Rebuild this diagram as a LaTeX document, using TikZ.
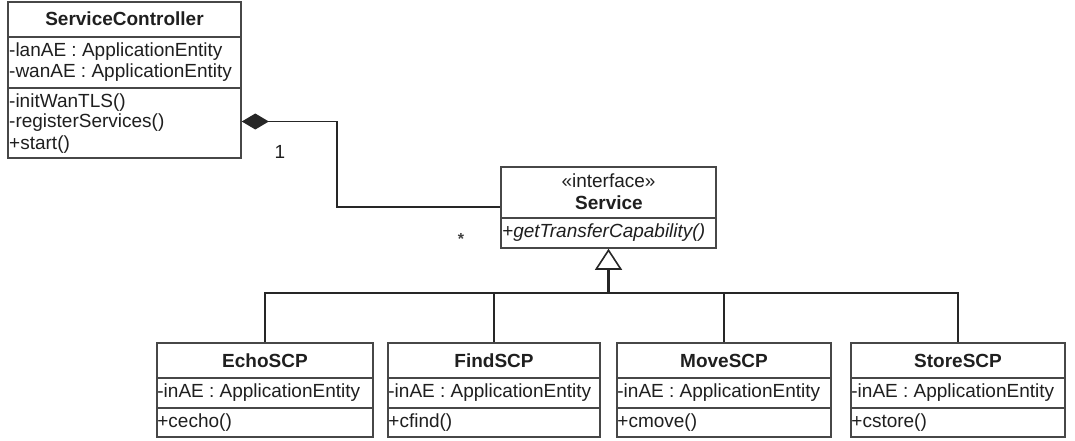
\documentclass[tikz,border=0pt]{standalone}
\usepackage{fontspec}
\setmainfont{Liberation Sans}
\usetikzlibrary{arrows.meta}
\begin{document}
\begin{tikzpicture}[x=1pt,y=-1pt,
  txt/.style={font=\fontsize{19}{21}\selectfont, text=black!88, inner sep=0pt},
  ttl/.style={font=\fontsize{19}{21}\selectfont\bfseries, text=black!88, inner sep=0pt},
  cls/.style={draw=black!72, line width=1.6pt, inner sep=0pt, fill=white},
  sep/.style={draw=black!72, line width=1.6pt},
  wire/.style={draw=black!85, line width=1.5pt},
]
\useasboundingbox (0,0) rectangle (1075,441);

% ---- ServiceController ----
\node[cls, minimum width=233pt, minimum height=156pt] (sc) at (124.5,80) {};
\draw[sep] (sc.west |- 0,37) -- (sc.east |- 0,37);
\draw[sep] (sc.west |- 0,88) -- (sc.east |- 0,88);
\node[ttl, anchor=base] (scT) at (124.5,26) {ServiceController};
\node[txt, anchor=base west] (scA1) at (9,57) {-lanAE : ApplicationEntity};
\node[txt, anchor=base west] (scA2) at (9,78) {-wanAE : ApplicationEntity};
\node[txt, anchor=base west] (scM1) at (9,107) {-initWanTLS()};
\node[txt, anchor=base west] (scM2) at (9,128) {-registerServices()};
\node[txt, anchor=base west] (scM3) at (9,149) {+start()};

% ---- Service interface ----
\node[cls, minimum width=215pt, minimum height=81pt] (svc) at (608.5,207.5) {};
\draw[sep] (svc.west |- 0,218) -- (svc.east |- 0,218);
\node[txt, anchor=base] (svcS) at (608.5,187) {«interface»};
\node[ttl, anchor=base] (svcT) at (609,209) {Service};
\node[txt, anchor=base west] (svcM) at (502,237) {\itshape +getTransferCapability()};

% ---- SCP implementations ----
\foreach \n/\t/\cx/\w/\m in {echo/EchoSCP/265/216/cecho,
                             find/FindSCP/494/212/cfind,
                             move/MoveSCP/724/214/cmove,
                             store/StoreSCP/958/214/cstore}{
  \node[cls, minimum width=\w pt, minimum height=94pt] (\n) at (\cx,390) {};
  \draw[sep] (\n.west |- 0,378) -- (\n.east |- 0,378);
  \draw[sep] (\n.west |- 0,408) -- (\n.east |- 0,408);
  \node[ttl, anchor=base] (\n T) at (\cx,367) {\t};
  \node[txt, anchor=base west] (\n A) at ([xshift=1pt]\n.west |- 0,397) {-inAE : ApplicationEntity};
  \node[txt, anchor=base west] (\n M) at ([xshift=1pt]\n.west |- 0,427) {+\m()};
}

% ---- composition ServiceController <>-- Service ----
\coordinate (bend) at (337,207);
\draw[wire, {Diamond[length=27pt, width=16pt]}-] (sc.east |- 0,121.5) -| (bend) -- (svc.west |- bend);
\node[txt, anchor=base] (mult1) at (280,158) {1};
\node[font=\fontsize{16}{16}\selectfont\bfseries, text=black!75, inner sep=0pt] (multN) at (461,239) {*};

% ---- realization tree ----
\coordinate (hub) at (608.5,293);
\draw[wire] (echo.north) -- (echo.north |- hub) -- (store.north |- hub) -- (store.north);
\draw[wire] (find.north) -- (find.north |- hub);
\draw[wire] (move.north) -- (move.north |- hub);
\draw[draw=black!85, line width=2.6pt, -{Triangle[open, length=21pt, width=27pt, line width=1.6pt]}] (hub) -- (svc.south -| hub);
\end{tikzpicture}
\end{document}
